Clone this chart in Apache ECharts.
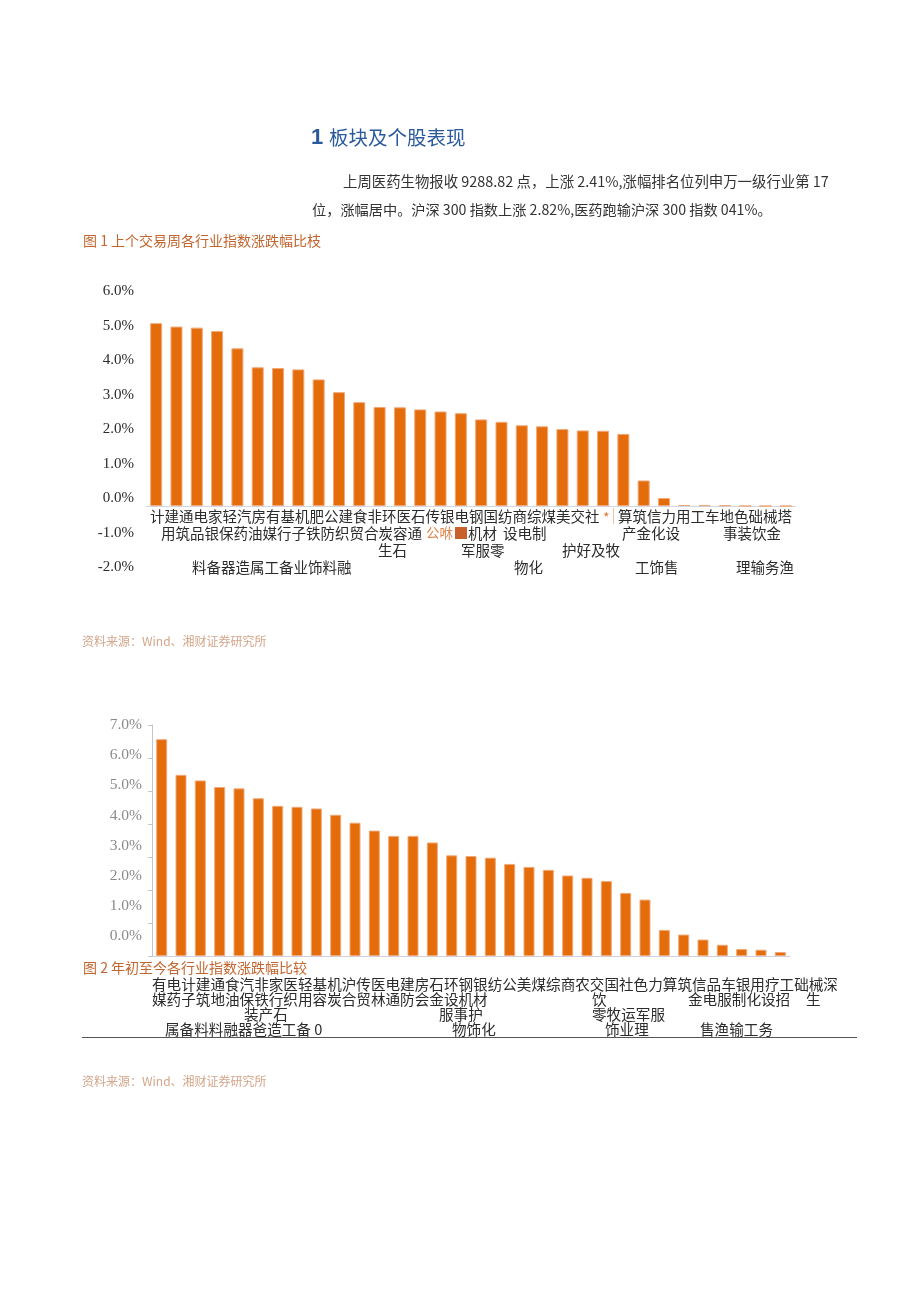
<!DOCTYPE html>
<html>
<head>
<meta charset="utf-8">
<script src="https://cdn.jsdelivr.net/npm/echarts@6/dist/echarts.min.js"></script>
<style>
html,body{margin:0;padding:0;background:#fff;}
#c{width:920px;height:1301px;}
</style>
</head>
<body>
<div id="c"></div>
<script>
// ---------- data ----------
const fig1Categories = ['计','建','通','电','家','轻','汽','房','有','基','机','肥','公','建','食','非','环','医','石','传','银','电','钢','国','纺','商','综','煤','美','交','社','算'];
const fig1Values = [5.30,5.20,5.17,5.07,4.57,4.02,4.00,3.96,3.67,3.30,3.01,2.87,2.86,2.80,2.74,2.69,2.51,2.44,2.34,2.31,2.23,2.19,2.18,2.09,0.74,0.23,0.03,0.02,0.02,0,0,0];
const fig1Ticks = [-2,-1,0,1,2,3,4,5,6];

const fig2Categories = ['有','电','计','建','通','食','汽','非','家','医','轻','基','机','沪','传','医','电','建','房','石','环','钢','银','纺','公','美','煤','综','商','农','交','国','社'];
const fig2Values = [6.57,5.49,5.32,5.12,5.08,4.78,4.55,4.52,4.47,4.28,4.04,3.80,3.64,3.64,3.44,3.05,3.03,2.98,2.79,2.70,2.61,2.44,2.37,2.27,1.91,1.71,0.79,0.65,0.50,0.34,0.21,0.19,0.12];
const fig2Ticks = [0,1,2,3,4,5,6,7];

// label rows as printed (text, x)
const fig1Row1 = [['计建通电家轻汽房有基机肥公建食非环医石传银电钢国纺商综煤美交社',150],['算筑信力用工车地色础械塔',618]];
const fig1Row2 = [['用筑品银保药油媒行子铁防织贸合炭容通',161],['机材',468],['设电制',503],['产金化设',622],['事装饮金',723]];
const fig1Row3 = [['生石',378],['军服零',461],['护好及牧',562]];
const fig1Row4 = [['料备器造属工备业饰料融',192],['物化',514],['工饰售',635],['理输务渔',736]];

const fig2Row1 = [['有电计建通食汽非家医轻基机沪传医电建房石环钢银纺公美煤综商农交国社色力算筑信品车银用疗工础械深',152]];
const fig2Row2 = [['媒药子筑地油保铁行织用容炭合贸林通防会金设机材',152],['饮',592],['金电服制化设招',688],['生',806]];
const fig2Row3 = [['装产石',244],['服事护',439],['零牧运军服',592]];
const fig2Row4 = [['属备料料融器爸造工备 0',165],['物饰化',452],['饰业理',605],['售渔输工务',700]];

// ---------- render ----------
const CJK = '"Noto Sans CJK SC", sans-serif';
const chart = echarts.init(document.getElementById('c'), null, {renderer:'canvas'});

function txt(t, x, y, size, color, extra) {
  return Object.assign({
    type:'text', silent:true,
    style:{text:t, x:x, y:y, fill:color, font: size + 'px ' + CJK, verticalAlign:'middle', align:'left'}
  }, extra || {});
}
const graphics = [];
function rows(list, y, size) {
  list.forEach(r => graphics.push(txt(r[0], r[1], y, size, '#2b2b2b')));
}
// heading & paragraph
graphics.push({type:'text', silent:true, style:{text:'1', x:311, y:138, fill:'#2a5a9c', font:'bold 22px "Liberation Sans", sans-serif', verticalAlign:'middle'}});
graphics.push(txt('板块及个股表现', 329, 138, 19.5, '#2a5a9c'));
graphics.push(txt('上周医药生物报收 9288.82 点，上涨 2.41%,涨幅排名位列申万一级行业第 17', 343, 182, 14.4, '#333'));
graphics.push(txt('位，涨幅居中。沪深 300 指数上涨 2.82%,医药跑输沪深 300 指数 041%。', 312, 210, 14.2, '#333'));
graphics.push(txt('图 1 上个交易周各行业指数涨跌幅比枝', 83, 241, 14, '#c2652e'));
rows(fig1Row1, 516, 14.5);
rows(fig1Row2, 533, 14.5);
rows(fig1Row3, 550, 14.5);
rows(fig1Row4, 567, 14.5);
graphics.push(txt('*', 603, 518, 14, '#e07a3a'));
graphics.push({type:'line', silent:true, shape:{x1:613.5,y1:508,x2:613.5,y2:524}, style:{stroke:'#f0c0a0', lineWidth:1}});
graphics.push(txt('公咻', 426, 533, 13.5, '#e0854a'));
graphics.push({type:'rect', silent:true, shape:{x:455, y:527, width:12, height:12}, style:{fill:'#c8622c'}});
graphics.push(txt('资料来源：Wind、湘财证券研究所', 82, 641, 12, '#d4a58a'));

graphics.push(txt('图 2 年初至今各行业指数涨跌幅比较', 83, 968, 14, '#c2652e'));
rows(fig2Row1, 984, 14.6);
rows(fig2Row2, 999, 14.6);
rows(fig2Row3, 1014, 14.6);
rows(fig2Row4, 1029, 14.6);
graphics.push({type:'line', silent:true, shape:{x1:82,y1:1037.5,x2:857,y2:1037.5}, style:{stroke:'#555', lineWidth:1}});
graphics.push(txt('资料来源：Wind、湘财证券研究所', 82, 1081, 12, '#d4a58a'));

const barStyle = {color:'#e46c0a', borderColor:'#f0a878', borderWidth:1};

chart.setOption({
  backgroundColor:'#ffffff',
  animation:false,
  grid:[
    {left:146, top:299, width:650, height:276},
    {left:152, top:725, width:638, height:231}
  ],
  xAxis:[
    {type:'category', gridIndex:0, data:fig1Categories,
     axisLine:{show:true, onZero:true, lineStyle:{color:'#d3d7e3', width:1}},
     axisTick:{show:false}, axisLabel:{show:false}, splitLine:{show:false}},
    {type:'category', gridIndex:1, data:fig2Categories,
     axisLine:{show:true, lineStyle:{color:'#cfcfe0', width:1}},
     axisTick:{show:false}, axisLabel:{show:false}, splitLine:{show:false}}
  ],
  yAxis:[
    {type:'value', gridIndex:0, min:-2, max:6, interval:1,
     axisLine:{show:false}, axisTick:{show:false}, splitLine:{show:false},
     axisLabel:{show:true, customValues:fig1Ticks, formatter:v=>v.toFixed(1)+'%', color:'#2b2b2b',
       fontFamily:'"Liberation Serif", serif', fontSize:15, margin:12, verticalAlign:'bottom'}},
    {type:'value', gridIndex:1, min:0, max:7, interval:1,
     axisLine:{show:true, lineStyle:{color:'#c4c4c4'}},
     axisTick:{show:true, inside:false, length:4, lineStyle:{color:'#c4c4c4'}},
     splitLine:{show:false}, axisLabel:{show:false}},
    {type:'value', gridIndex:1, min:-0.66, max:7, position:'left',
     axisLine:{show:false}, axisTick:{show:false}, splitLine:{show:false},
     axisLabel:{show:true, customValues:fig2Ticks, formatter:v=>v.toFixed(1)+'%', color:'#8a8a8a',
       fontFamily:'"Liberation Serif", serif', fontSize:15.5, margin:10}}
  ],
  series:[
    {type:'bar', xAxisIndex:0, yAxisIndex:0, data:fig1Values, barWidth:12, itemStyle:barStyle, silent:true},
    {type:'bar', xAxisIndex:1, yAxisIndex:1, data:fig2Values, barWidth:11, itemStyle:barStyle, silent:true}
  ],
  graphic:graphics
});
</script>
</body>
</html>
